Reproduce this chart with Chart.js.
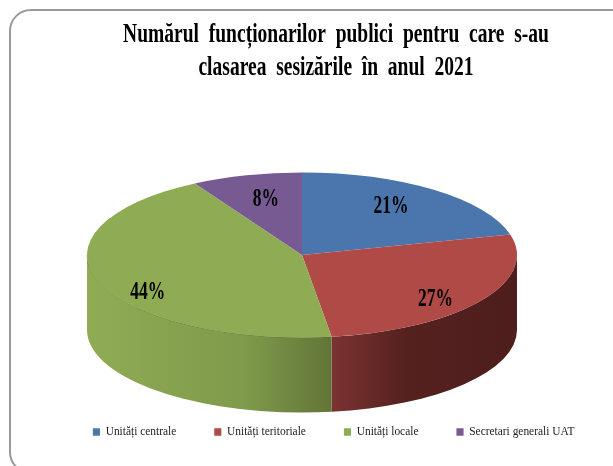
<!DOCTYPE html>
<html lang='ro'>
  <head>
    <title>Numărul funcționarilor publici</title>
    <meta charset='UTF-8'>
    <script src='https://cdn.jsdelivr.net/npm/chart.js@4/dist/chart.umd.js'></script>
    <style>
      html, body { margin: 0; padding: 0; background: #fff; overflow: hidden; }
      #wrap { position: relative; width: 613px; height: 466px; }
      #frame { position: absolute; left: 9px; top: 9px; width: 640px; height: 465px; border: 2px solid #9a9a9a; border-radius: 22px; box-sizing: border-box; }
      canvas { position: absolute; left: 0; top: 0; }
    </style>
  </head>
  <body>
    <div id='wrap'>
      <div id='frame'></div>
      <canvas id='grafic' width='613' height='466'></canvas>
    </div>
    <script>
      const categories = ['Unități centrale', 'Unități teritoriale', 'Unități locale', 'Secretari generali UAT'];
      const values = [21, 26.8, 43.9, 8.3];
      const titleLines = ['Numărul  funcționarilor  publici  pentru  care  s-au', 'clasarea  sesizările  în  anul  2021'];
      const topColors = ['#4a76ad', '#b04a47', '#8fac55', '#775a92'];

      // pie is a circle for the library, squashed here to the tilted disc
      const cx = 302, cy = 255, rx = 215, ry = 82.5, depth = 75;
      // how far out each label sits along its slice (x, y)
      const labelPos = [[.675, .75], [.748, .97], [.758, 1.42], [.65, .7]];

      function wallFill(ctx, i) {
        let g = ctx.createLinearGradient(i == 1 ? 331 : 87, 0, i == 1 ? 518 : 331, 0);
        if (i == 1) {
          g.addColorStop(0, '#7b3331');
          g.addColorStop(0.4, '#55211f');
          g.addColorStop(1, '#4d1e1c');
        } else {
          g.addColorStop(0, '#8fac55');
          g.addColorStop(0.65, '#7f9a4b');
          g.addColorStop(1, '#627538');
        }
        return g;
      }

      function squeeze(box, sx, shift, chart) {
        if (box._squeezed) return;
        box._squeezed = true;
        let draw = box.draw;
        box.draw = function (area) {
          let ctx = chart.ctx, mid = chart.width * 0.5 + shift;
          ctx.save();
          ctx.translate(mid, 0);
          ctx.scale(sx, 1);
          ctx.translate(-mid, 0);
          draw.call(box, area);
          ctx.restore();
        };
      }

      const tiltPlugin = {
        id: 'tilt',
        afterLayout(chart) {
          squeeze(chart.titleBlock, 0.723, 106.5, chart);
          squeeze(chart.legend, 0.95, 542, chart);
        },
        beforeDatasetsDraw(chart) {
          let ctx = chart.ctx, arcs = chart.getDatasetMeta(0).data, arc = arcs[0];
          ctx.save();
          // side wall, only the front half of the rim shows
          arcs.forEach((a, i) => {
            let start = Math.max(a.startAngle, 0), end = Math.min(a.endAngle, Math.PI);
            if (end <= start) return;
            ctx.beginPath();
            ctx.ellipse(cx, cy, rx, ry, 0, start, end);
            ctx.ellipse(cx, cy + depth, rx, ry, 0, end, start, true);
            ctx.closePath();
            ctx.fillStyle = wallFill(ctx, i);
            ctx.fill();
            if (i == 2) {
              ctx.beginPath();
              ctx.ellipse(cx, cy, rx, ry, 0, start, end);
              ctx.strokeStyle = 'rgba(70,90,30,0.45)';
              ctx.lineWidth = 1;
              ctx.stroke();
            }
          });
          ctx.restore();
          ctx.save();
          ctx.translate(cx, cy);
          ctx.scale(rx / arc.outerRadius, ry / arc.outerRadius);
          ctx.translate(-arc.x, -arc.y);
        },
        afterDatasetsDraw(chart) {
          let ctx = chart.ctx, arcs = chart.getDatasetMeta(0).data;
          ctx.restore();
          ctx.save();
          ctx.fillStyle = '#000';
          ctx.font = 'bold 25px "Liberation Serif"';
          ctx.textAlign = 'center';
          ctx.textBaseline = 'middle';
          arcs.forEach((a, i) => {
            let mid = (a.startAngle + a.endAngle) / 2;
            let x = cx + rx * labelPos[i][0] * Math.cos(mid);
            let y = cy + ry * labelPos[i][1] * Math.sin(mid);
            ctx.save();
            ctx.translate(x, y);
            ctx.scale(0.7, 1);
            ctx.fillText(Math.round(values[i]) + '%', 0, 0);
            ctx.restore();
          });
          ctx.restore();
        }
      };

      new Chart(document.getElementById('grafic'), {
        type: 'pie',
        data: {
          labels: categories,
          datasets: [{ data: values, backgroundColor: topColors, borderWidth: 0, clip: false }]
        },
        options: {
          responsive: false,
          animation: false,
          layout: { padding: { top: 0, bottom: 18 } },
          plugins: {
            tooltip: { enabled: false },
            title: {
              display: true,
              text: titleLines,
              color: '#000',
              font: { family: '"Liberation Serif"', size: 27, weight: 'bold', lineHeight: 1.22 },
              padding: { top: 19, bottom: 0 }
            },
            legend: {
              position: 'bottom',
              labels: {
                boxWidth: 7.5, boxHeight: 7.5, padding: 40, color: '#222',
                font: { family: '"Liberation Serif"', size: 12 }
              }
            }
          }
        },
        plugins: [tiltPlugin]
      });
    </script>
  </body>
</html>
